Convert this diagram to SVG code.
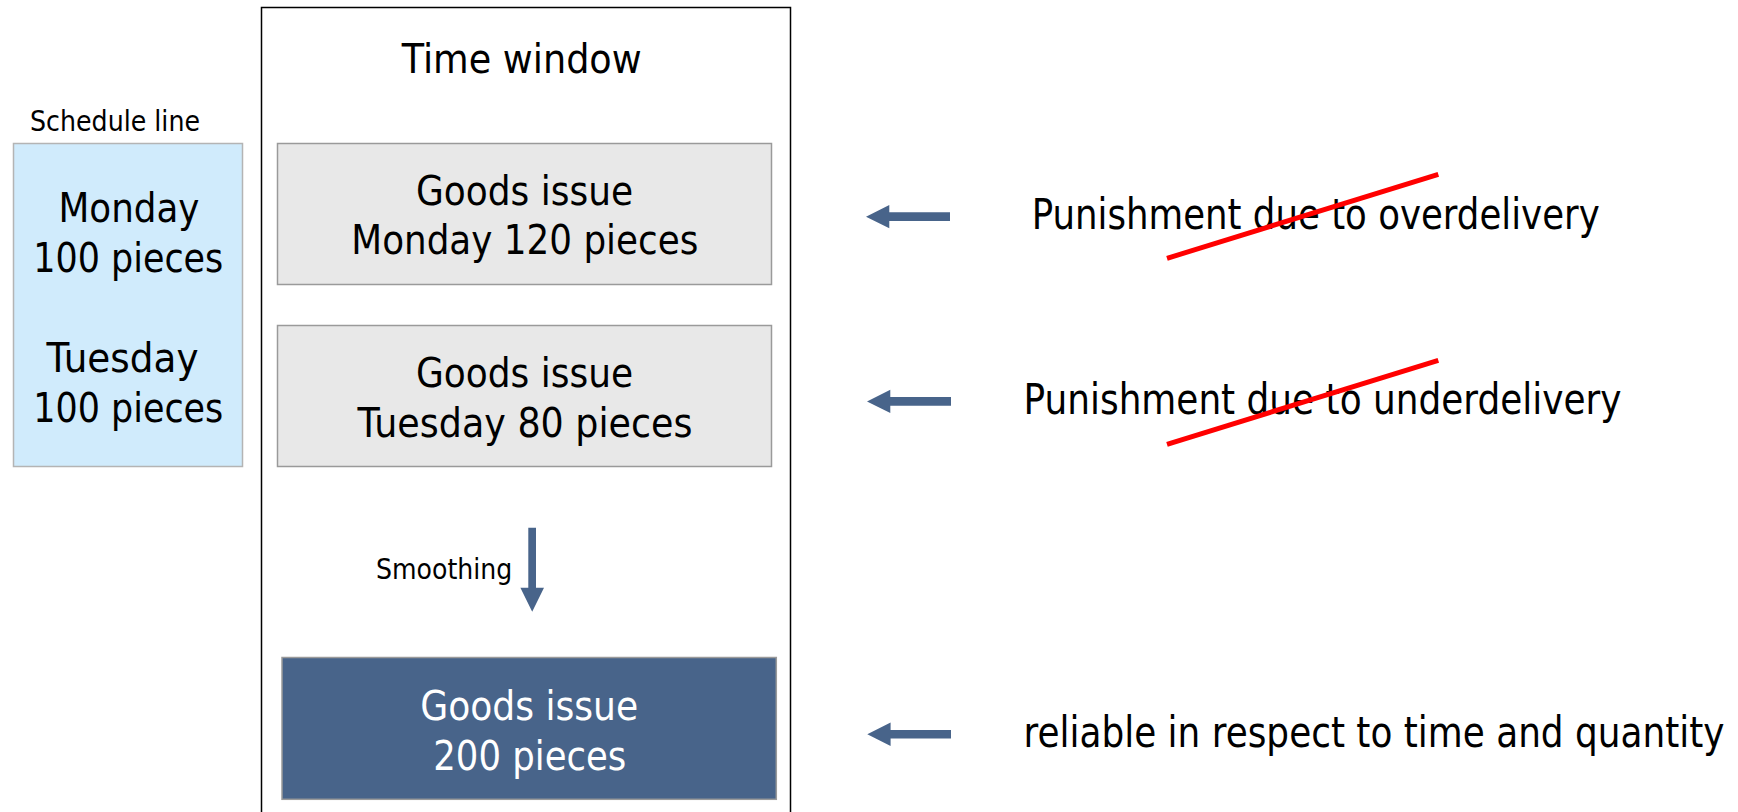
<svg xmlns="http://www.w3.org/2000/svg" width="1738" height="812" viewBox="0 0 1738 812">
<style>
text { font-family: "DejaVu Sans", "Liberation Sans", sans-serif; fill: #000; }
.big { font-size: 40px; }
.huge { font-size: 42px; }
.small { font-size: 28px; }
.mid { text-anchor: middle; }
.white { fill: #ffffff; }
.arrow { fill: #48648A; }
.strike { stroke: #FF0000; stroke-width: 5; stroke-linecap: butt; }
</style>
<rect x="0" y="0" width="1738" height="812" fill="#ffffff"/>

<g id="time-window">
  <rect x="261.5" y="7.5" width="529" height="830" fill="#ffffff" stroke="#000000" stroke-width="1.5"/>
  <text class="big mid" x="521.7" y="72.7" font-size="41" textLength="240" lengthAdjust="spacingAndGlyphs">Time window</text>
</g>

<g id="schedule-line">
  <text class="small" x="30" y="130.7" textLength="170" lengthAdjust="spacingAndGlyphs">Schedule line</text>
  <rect x="13.5" y="143.5" width="229" height="323" fill="#D0EBFC" stroke="#B4B4B4" stroke-width="1.5"/>
  <text class="big mid" x="129" y="221.7" textLength="141" lengthAdjust="spacingAndGlyphs">Monday</text>
  <text class="big mid" x="128.3" y="271.7" textLength="190" lengthAdjust="spacingAndGlyphs">100 pieces</text>
  <text class="big mid" x="122.5" y="371.5" textLength="152" lengthAdjust="spacingAndGlyphs">Tuesday</text>
  <text class="big mid" x="128.3" y="421.5" textLength="190" lengthAdjust="spacingAndGlyphs">100 pieces</text>
</g>

<g id="goods-issue-monday">
  <rect x="277.5" y="143.5" width="494" height="141" fill="#E8E8E8" stroke="#9A9A9A" stroke-width="1.5"/>
  <text class="big mid" x="524.5" y="204.7" textLength="217" lengthAdjust="spacingAndGlyphs">Goods issue</text>
  <text class="big mid" x="524.8" y="254.4" textLength="347" lengthAdjust="spacingAndGlyphs">Monday 120 pieces</text>
</g>

<g id="goods-issue-tuesday">
  <rect x="277.5" y="325.5" width="494" height="141" fill="#E8E8E8" stroke="#9A9A9A" stroke-width="1.5"/>
  <text class="big mid" x="524.5" y="387" textLength="217" lengthAdjust="spacingAndGlyphs">Goods issue</text>
  <text class="big mid" x="525" y="436.7" textLength="335" lengthAdjust="spacingAndGlyphs">Tuesday 80 pieces</text>
</g>

<g id="goods-issue-total">
  <rect x="282" y="657.5" width="494.3" height="141.8" fill="#48648A" stroke="#9A9A9A" stroke-width="1.5"/>
  <text class="big mid white" x="529.2" y="720" textLength="218" lengthAdjust="spacingAndGlyphs">Goods issue</text>
  <text class="big mid white" x="529.8" y="770" textLength="193" lengthAdjust="spacingAndGlyphs">200 pieces</text>
</g>

<g id="label-overdelivery">
  <text class="huge" x="1031.7" y="229.3" textLength="568" lengthAdjust="spacingAndGlyphs">Punishment due to overdelivery</text>
  <line class="strike" x1="1167" y1="258.3" x2="1438.3" y2="174.3"/>
</g>

<g id="label-underdelivery">
  <text class="huge" x="1023.5" y="414.3" textLength="598" lengthAdjust="spacingAndGlyphs">Punishment due to underdelivery</text>
  <line class="strike" x1="1167" y1="444.3" x2="1438.3" y2="360.3"/>
</g>

<g id="label-reliable">
  <text class="huge" x="1023.5" y="747.3" textLength="701" lengthAdjust="spacingAndGlyphs">reliable in respect to time and quantity</text>
</g>

<g id="connectors">
  <polygon class="arrow" points="866,216.7 889.3,205 889.3,212.3 950,212.3 950,221 889.3,221 889.3,228.3"/>
  <polygon class="arrow" points="867,401.5 890.3,389.8 890.3,397.1 951,397.1 951,405.8 890.3,405.8 890.3,413.1"/>
  <polygon class="arrow" points="867.3,734.3 890.6,722.6 890.6,729.9 951,729.9 951,738.6 890.6,738.6 890.6,745.9"/>
  <polygon class="arrow" points="528.3,527.7 536,527.7 536,587.7 544,587.7 532.2,611.7 520.4,587.7 528.3,587.7"/>
  <text class="small" x="376" y="579.3" textLength="136.3" lengthAdjust="spacingAndGlyphs">Smoothing</text>
</g>
</svg>
